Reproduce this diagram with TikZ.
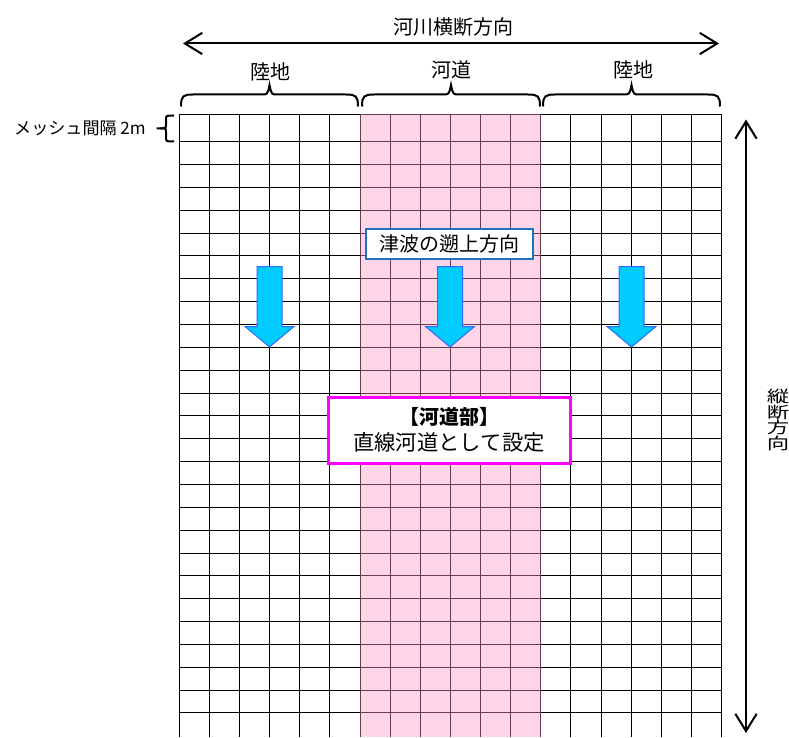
\documentclass[tikz,border=0pt]{standalone}
\usepackage{fontspec}
\setmainfont{Noto Sans CJK JP}
\usetikzlibrary{arrows.meta}
\definecolor{riverpink}{RGB}{255,152,198}
\definecolor{wavefill}{RGB}{0,204,255}
\definecolor{waveedge}{RGB}{51,102,255}
\definecolor{boxblue}{RGB}{31,111,191}
\definecolor{boxmag}{RGB}{255,0,255}
\newcommand\riverbrace[2]{%
  \draw[bracestyle] (#1,106.5) .. controls (#1,96) and ({#1+2},94.5) .. ({#1+12},94.5)
    -- ({(#1+#2)/2-8},94.5) .. controls ({(#1+#2)/2-2},94.5) .. ({(#1+#2)/2},85)
    .. controls ({(#1+#2)/2+2},94.5) .. ({(#1+#2)/2+8},94.5)
    -- ({#2-12},94.5) .. controls ({#2-2},94.5) and (#2,96) .. (#2,106.5);}
\newcommand\wavearrow[1]{%
  \filldraw[wavestyle] ({#1-12.5},266.5) -- ({#1+12.5},266.5) -- ({#1+12.5},326.5)
    -- ({#1+24.5},326.5) -- (#1,347) -- ({#1-24.5},326.5) -- ({#1-12.5},326.5) -- cycle;}
\begin{document}
\begin{tikzpicture}[x=0.75pt,y=-0.75pt,
  gridline/.style={black,line width=0.75pt},
  bracestyle/.style={black,line width=1.5pt},
  bigarrow/.style={black,line width=1.5pt,{Straight Barb[length=13pt,width=16pt,line width=1.5pt]}-{Straight Barb[length=13pt,width=16pt,line width=1.5pt]}},
  wavestyle/.style={fill=wavefill,draw=waveedge,line width=0.75pt},
  lbl/.style={inner sep=0pt,font=\fontsize{15}{18}\selectfont}]
\useasboundingbox (0,0) rectangle (789,738);
% grid
\foreach \i in {0,...,18}
  \draw[gridline] ({179.3+30.13*\i},114.5) -- ({179.3+30.13*\i},737);
\draw[gridline] (179.3,114.5) -- (721.7,114.5);
\draw[gridline] (179.3,141.7) -- (721.7,141.7);
\foreach \k in {1,...,25}
  \draw[gridline] (179.3,{141.7+22.85*\k}) -- (721.7,{141.7+22.85*\k});
% river channel
\fill[riverpink,fill opacity=0.4] (360.1,114.5) rectangle (540.9,737);
% top arrow and labels
\coordinate (tl) at (183,43.5);
\coordinate (tr) at (719,43.5);
\draw[bigarrow] (tl) -- (tr);
\node[lbl] (title) at (453,27) {河川横断方向};
\node[lbl] (land1) at (270,72) {陸地};
\node[lbl] (river) at (451.5,70) {河道};
\node[lbl] (land2) at (633,70) {陸地};
\riverbrace{181}{358}
\riverbrace{362}{540}
\riverbrace{543}{720}
% mesh label
\node[inner sep=0pt,anchor=east,font=\fontsize{12.8}{15}\selectfont] (mesh) at (146,128.3) {メッシュ間隔 2m};
\draw[bracestyle] (174,115.5) .. controls (166,115.5) .. (166,120) -- (166,124.5)
  .. controls (166,128.3) .. (160,128.3) -- (156.7,128.3);
\draw[bracestyle] (160,128.3) .. controls (166,128.3) .. (166,132) -- (166,137)
  .. controls (166,141.5) .. (174,141.5);
% right arrow and label
\coordinate (rt) at (746,119.5);
\coordinate (rb) at (746,733);
\draw[bigarrow] (rt) -- (rb);
\node[inner sep=0pt,align=center,font=\fontsize{12}{11.8}\selectfont] (vlabel) at (778,420)
  {\scalebox{1.4}[1]{縦}\\[0pt]\scalebox{1.4}[1]{断}\\[0pt]\scalebox{1.4}[1]{方}\\[0pt]\scalebox{1.4}[1]{向}};
% tsunami arrows
\wavearrow{269.5}
\wavearrow{450}
\wavearrow{631.5}
\node[draw=boxblue,line width=1.5pt,fill=white,minimum width=125pt,minimum height=22.5pt,
  inner sep=0pt,font=\fontsize{15}{18}\selectfont] (tsunami) at (449.5,244) {津波の遡上方向};
% river section box
\node[draw=boxmag,line width=2.25pt,fill=white,minimum width=181.5pt,minimum height=49.5pt,
  inner sep=0pt,align=center,font=\fontsize{16}{19.5}\selectfont] (section) at (449,430)
  {{\fontsize{15}{19.5}\selectfont\bfseries 【河道部】}\\直線河道として設定};
\end{tikzpicture}
\end{document}
